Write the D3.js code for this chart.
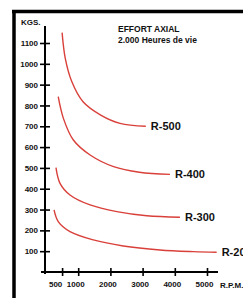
<!DOCTYPE html>
<html><head><meta charset="utf-8">
<script src="https://cdn.jsdelivr.net/npm/d3@7"></script>
<style>html,body{margin:0;padding:0;background:#fff;overflow:hidden}svg{display:block}text{font-family:"Liberation Sans",Arial,sans-serif;font-weight:bold;fill:#111}</style>
</head><body><svg id="c" width="243" height="298"></svg>
<script>
const yTicks = [100,200,300,400,500,600,700,800,900,1000,1100];
const xTicks = [500,1000,2000,3000,4000,5000];
const seriesNames = ["R-500","R-400","R-300","R-200"];
const rpm500 = [500,600,800,1150,1700,2300,3100];
const kg500  = [1150,1025,915,818,754,714,700];
const rpm400 = [380,540,850,1370,2100,2900,3850];
const kg400  = [842,738,634,562,506,479,469];
const rpm300 = [310,435,745,1370,2200,3130,4160];
const kg300  = [501,426,370,322,290,270,263];
const rpm200 = [250,380,745,1470,2400,3540,4580,5300];
const kg200  = [298,242,194,154,125,106,98,95];
const titleLines = ["EFFORT AXIAL","2.000 Heures de vie"];

const series = [[rpm500,kg500],[rpm400,kg400],[rpm300,kg300],[rpm200,kg200]].map((s,i)=>({
  name: seriesNames[i], pts: s[0].map((r,j)=>[r,s[1][j]])
}));

const svg = d3.select("#c");
const x = d3.scaleLinear().domain([0,5000]).range([46,207]);
const y = d3.scaleLinear().domain([0,1100]).range([272,43]);
const fmt = d3.format("d");

// frame
svg.append("line").attr("x1",14).attr("x2",14).attr("y1",10).attr("y2",298).attr("stroke","#000").attr("stroke-width",3.5);
svg.append("line").attr("x1",12).attr("x2",243).attr("y1",11.5).attr("y2",11.5).attr("stroke","#000").attr("stroke-width",3.5);

// axes lines
svg.append("line").attr("x1",45).attr("x2",45).attr("y1",26).attr("y2",274).attr("stroke","#000").attr("stroke-width",2);
svg.append("line").attr("x1",41).attr("x2",218).attr("y1",272).attr("y2",272).attr("stroke","#000").attr("stroke-width",2);

// y axis ticks
const ya = d3.axisLeft(y).tickValues(yTicks).tickFormat(fmt).tickSize(0).tickPadding(7);
const gy = svg.append("g").attr("transform","translate(45,0)").call(ya);
gy.select(".domain").remove();
gy.selectAll("text").attr("font-size",8).style("font-family",'"Liberation Sans",Arial,sans-serif').style("font-weight","bold").attr("fill","#111");
gy.selectAll(".tick").append("line").attr("x1",-5).attr("x2",5).attr("stroke","#000").attr("stroke-width",1.6);

// x axis ticks
const xa = d3.axisBottom(x).tickValues(xTicks).tickFormat(fmt).tickSize(0).tickPadding(9);
const gx = svg.append("g").attr("transform","translate(0,272)").call(xa);
gx.select(".domain").remove();
gx.selectAll("text").attr("font-size",8).style("font-family",'"Liberation Sans",Arial,sans-serif').style("font-weight","bold").attr("fill","#111")
  .attr("dx",d=>d===500?-7:-3);
gx.selectAll(".tick").append("line").attr("y1",-4).attr("y2",4).attr("stroke","#000").attr("stroke-width",1.6);

svg.append("text").attr("x",220).attr("y",288).attr("font-size",8).text("R.P.M.");
svg.append("text").attr("x",21).attr("y",25).attr("font-size",8).text("KGS.");
titleLines.forEach((t,i)=>svg.append("text").attr("x",118).attr("y",32+i*11).attr("font-size",8.5).text(t));

// curves
const line = d3.line().x(d=>x(d[0])).y(d=>y(d[1])).curve(d3.curveCatmullRom.alpha(0.5));
series.forEach(s=>{
  svg.append("path").attr("d",line(s.pts)).attr("fill","none").attr("stroke","#d9403a").attr("stroke-width",1.4);
  const last = s.pts[s.pts.length-1];
  svg.append("text").attr("x",x(last[0])+5).attr("y",y(last[1])+4).attr("font-size",11).text(s.name);
});
</script></body></html>
